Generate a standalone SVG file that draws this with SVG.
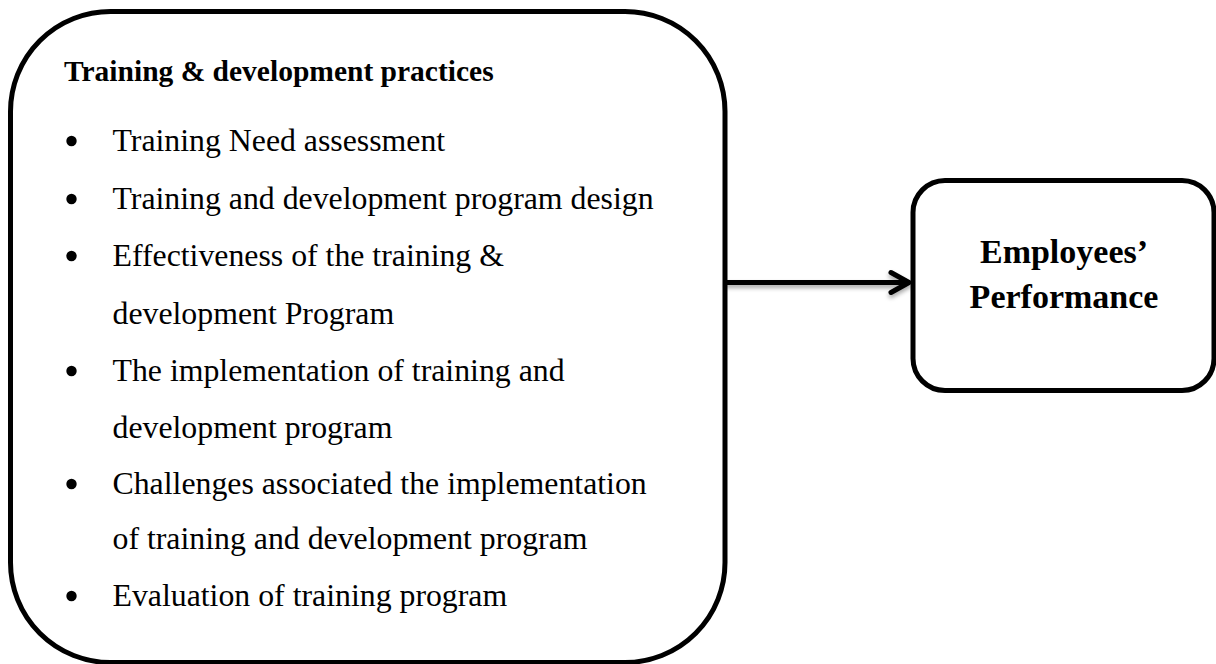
<svg xmlns="http://www.w3.org/2000/svg" width="1216" height="664" viewBox="0 0 1216 664">
  <style>
    .box { fill: #ffffff; stroke: #000000; stroke-width: 5; }
    .title { font-family: "Liberation Serif", "Times New Roman", serif; font-weight: bold; font-size: 29.5px; fill: #000; }
    .item { font-family: "Liberation Serif", "Times New Roman", serif; font-size: 31.8px; fill: #000; }
    .big { font-family: "Liberation Serif", "Times New Roman", serif; font-weight: bold; font-size: 34px; fill: #000; text-anchor: middle; }
    .dot { fill: #000; }
    .link { fill: none; stroke: #000; stroke-width: 5; stroke-linecap: round; stroke-linejoin: round; }
  </style>
  <defs>
    <filter id="softShadow" x="-10%" y="-100%" width="120%" height="300%">
      <feDropShadow dx="0" dy="3" stdDeviation="2" flood-color="#000" flood-opacity="0.35"/>
    </filter>
  </defs>

  <rect width="1216" height="664" fill="#ffffff"/>

  <!-- practices box -->
  <g id="practices">
    <rect class="box" x="10.5" y="11.5" width="714.5" height="651" rx="100" ry="100"/>
    <text class="title" x="64" y="81">Training &amp; development practices</text>
    <circle class="dot" cx="71.5" cy="141" r="5.2"/>
    <text class="item" x="112.5" y="151">Training Need assessment</text>
    <circle class="dot" cx="71.5" cy="199" r="5.2"/>
    <text class="item" x="112.5" y="209">Training and development program design</text>
    <circle class="dot" cx="71.5" cy="256" r="5.2"/>
    <text class="item" x="112.5" y="266">Effectiveness of the training &amp;</text>
    <text class="item" x="112.5" y="324">development Program</text>
    <circle class="dot" cx="71.5" cy="371" r="5.2"/>
    <text class="item" x="112.5" y="381">The implementation of training and</text>
    <text class="item" x="112.5" y="438">development program</text>
    <circle class="dot" cx="71.5" cy="484" r="5.2"/>
    <text class="item" x="112.5" y="494">Challenges associated the implementation</text>
    <text class="item" x="112.5" y="549">of training and development program</text>
    <circle class="dot" cx="71.5" cy="596" r="5.2"/>
    <text class="item" x="112.5" y="606">Evaluation of training program</text>
  </g>

  <!-- performance box -->
  <g id="performance">
    <rect class="box" x="913" y="180.5" width="301" height="210" rx="32" ry="32"/>
    <text class="big" x="1064" y="263">Employees’</text>
    <text class="big" x="1064" y="308">Performance</text>
  </g>

  <!-- connector -->
  <g id="connectors" filter="url(#softShadow)">
    <path class="link" d="M 727 282.5 L 908 282.5"/>
    <path class="link" d="M 891 272.5 L 909 282.5 L 891 292.5"/>
  </g>
</svg>
